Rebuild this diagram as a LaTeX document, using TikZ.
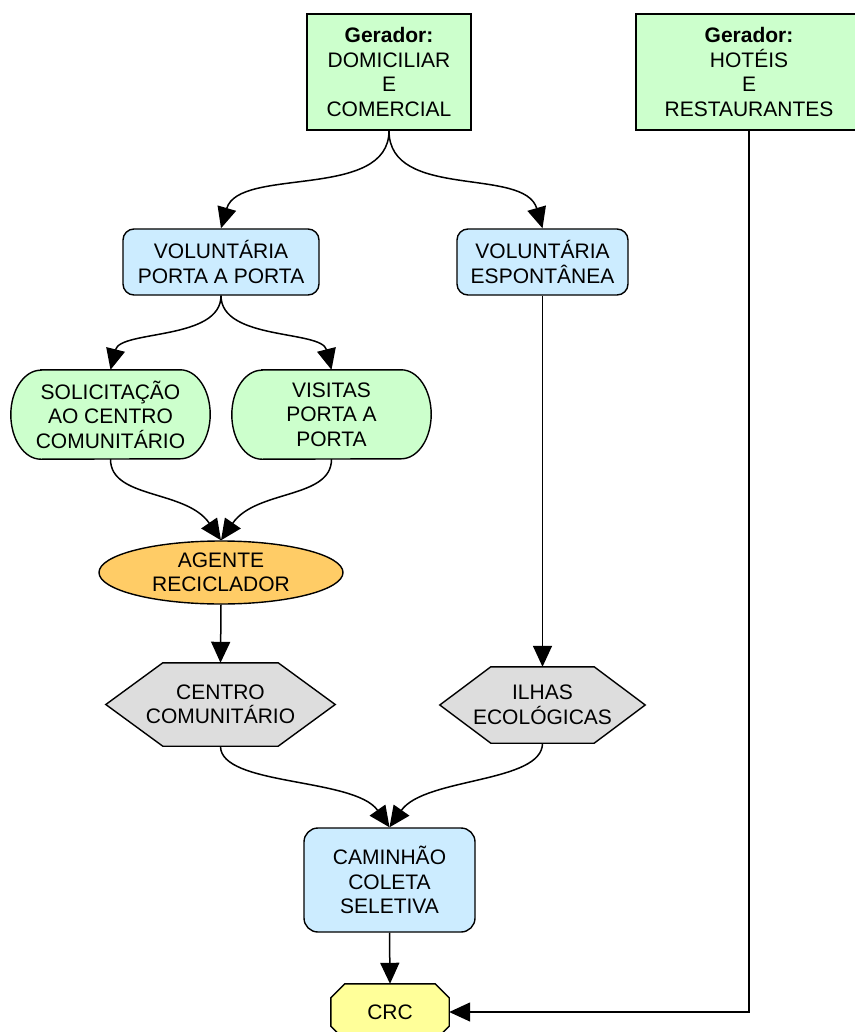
\documentclass[tikz,border=0pt]{standalone}
\usepackage{fontspec}
\setmainfont{Liberation Sans}
\usetikzlibrary{arrows.meta,shapes.geometric,calc,backgrounds}

\definecolor{genfill}{HTML}{CCFFCC}
\definecolor{actfill}{HTML}{CCECFF}
\definecolor{agentfill}{HTML}{FFCC66}
\definecolor{sitefill}{HTML}{DDDDDD}
\definecolor{crcfill}{HTML}{FFFF99}

\tikzset{
  headtip/.tip={Triangle[length=21pt,width=19pt]},
}

\begin{document}
\begin{tikzpicture}[x=1pt,y=-1pt,
  every node/.style={font=\fontsize{21}{24.5}\selectfont, align=center, inner sep=0pt},
  outline/.style={draw=black, line width=1.4pt},
  genbox/.style={outline, rectangle, fill=genfill},
  actbox/.style={outline, rectangle, rounded corners=11pt, fill=actfill},
  holder/.style={rectangle, draw=none},
  pillholder/.style={holder, minimum width=199pt, minimum height=89pt},
  agentbox/.style={outline, ellipse, fill=agentfill},
  polyline/.style={outline, line join=miter},
  arr/.style={line width=1.5pt, arrows={-headtip}}
]
\useasboundingbox (0,0) rectangle (854,1032);

% generators
\node[genbox, minimum width=164pt, minimum height=116pt] (dom) at (389,72)
  {\textbf{Gerador:}\\DOMICILIAR\\E\\COMERCIAL};
\node[genbox, minimum width=226pt, minimum height=116pt] (hot) at (749,72)
  {\textbf{Gerador:}\\HOTÉIS\\E\\RESTAURANTES};

% collection modes
\node[actbox, minimum width=196pt, minimum height=66pt] (vpp) at (221,262)
  {VOLUNTÁRIA\\PORTA A PORTA};
\node[actbox, minimum width=171pt, minimum height=66pt] (esp) at (542.5,262)
  {VOLUNTÁRIA\\ESPONTÂNEA};

% requests (pill shapes drawn behind the text)
\node[pillholder] (sol) at (110.5,414.5) {SOLICITAÇÃO\\AO CENTRO\\COMUNITÁRIO};
\node[pillholder] (vis) at (331.5,414.5) {VISITAS\\PORTA A\\PORTA};

\node[agentbox, minimum width=244pt, minimum height=63pt] (age) at (221,572.5)
  {AGENTE\\RECICLADOR};

% drop-off points (hexagons drawn behind the text)
\node[holder, minimum width=229pt, minimum height=83pt] (cen) at (220.5,704.5)
  {CENTRO\\COMUNITÁRIO};
\node[holder, minimum width=205pt, minimum height=76pt] (ilh) at (542.5,705)
  {ILHAS\\ECOLÓGICAS};

\node[actbox, rounded corners=14pt, minimum width=171pt, minimum height=104pt] (cam) at (389.5,880)
  {CAMINHÃO\\COLETA\\SELETIVA};

\node[holder, minimum width=118pt, minimum height=56pt] (crc) at (390,1012) {CRC};

\begin{scope}[on background layer]
  \foreach \p in {sol,vis}{
    \draw[outline, fill=genfill]
      ($(\p.north west)+(30,0)$) -- ($(\p.north east)+(-30,0)$)
      arc[start angle=-90, end angle=90, x radius=30, y radius=44.5]
      -- ($(\p.south west)+(30,0)$)
      arc[start angle=90, end angle=270, x radius=30, y radius=44.5] -- cycle;
  }
  \draw[polyline, fill=sitefill]
    ($(cen.north west)+(57,0)$) -- ($(cen.north east)+(-57,0)$) -- (cen.east)
    -- ($(cen.south east)+(-57,0)$) -- ($(cen.south west)+(57,0)$) -- (cen.west) -- cycle;
  \draw[polyline, fill=sitefill]
    ($(ilh.north west)+(51,0)$) -- ($(ilh.north east)+(-51,0)$) -- (ilh.east)
    -- ($(ilh.south east)+(-51,0)$) -- ($(ilh.south west)+(51,0)$) -- (ilh.west) -- cycle;
  \draw[polyline, fill=crcfill]
    ($(crc.north west)+(14,0)$) -- ($(crc.north east)+(-14,0)$) -- ($(crc.north east)+(0,14)$)
    -- ($(crc.south east)+(0,-14)$) -- ($(crc.south east)+(-14,0)$) -- ($(crc.south west)+(14,0)$)
    -- ($(crc.south west)+(0,-14)$) -- ($(crc.north west)+(0,14)$) -- cycle;
\end{scope}

% connectors
\draw[arr] (dom.south) .. controls +(0,70) and +(18,-62) .. (vpp.north);
\draw[arr] (dom.south) .. controls +(0,70) and +(-18,-62) .. (esp.north);
\draw[arr] (vpp.south) .. controls +(0,45) and +(10,-40) .. (sol.north);
\draw[arr] (vpp.south) .. controls +(0,45) and +(-10,-40) .. (vis.north);
\draw[arr] (sol.south) .. controls +(0,40) and +(-35,-51) .. (age.north);
\draw[arr] (vis.south) .. controls +(0,40) and +(35,-51) .. (age.north);
\draw[arr] (age.south) -- (cen.north);
\draw[arr] (esp.south) -- (ilh.north);
\draw[arr] (cen.south) .. controls +(0,40) and +(-35,-50) .. (cam.north);
\draw[arr] (ilh.south) .. controls +(0,40) and +(35,-50) .. (cam.north);
\draw[arr] (cam.south) -- (crc.north);
\draw[arr] (hot.south) |- (crc.east);
\end{tikzpicture}
\end{document}
